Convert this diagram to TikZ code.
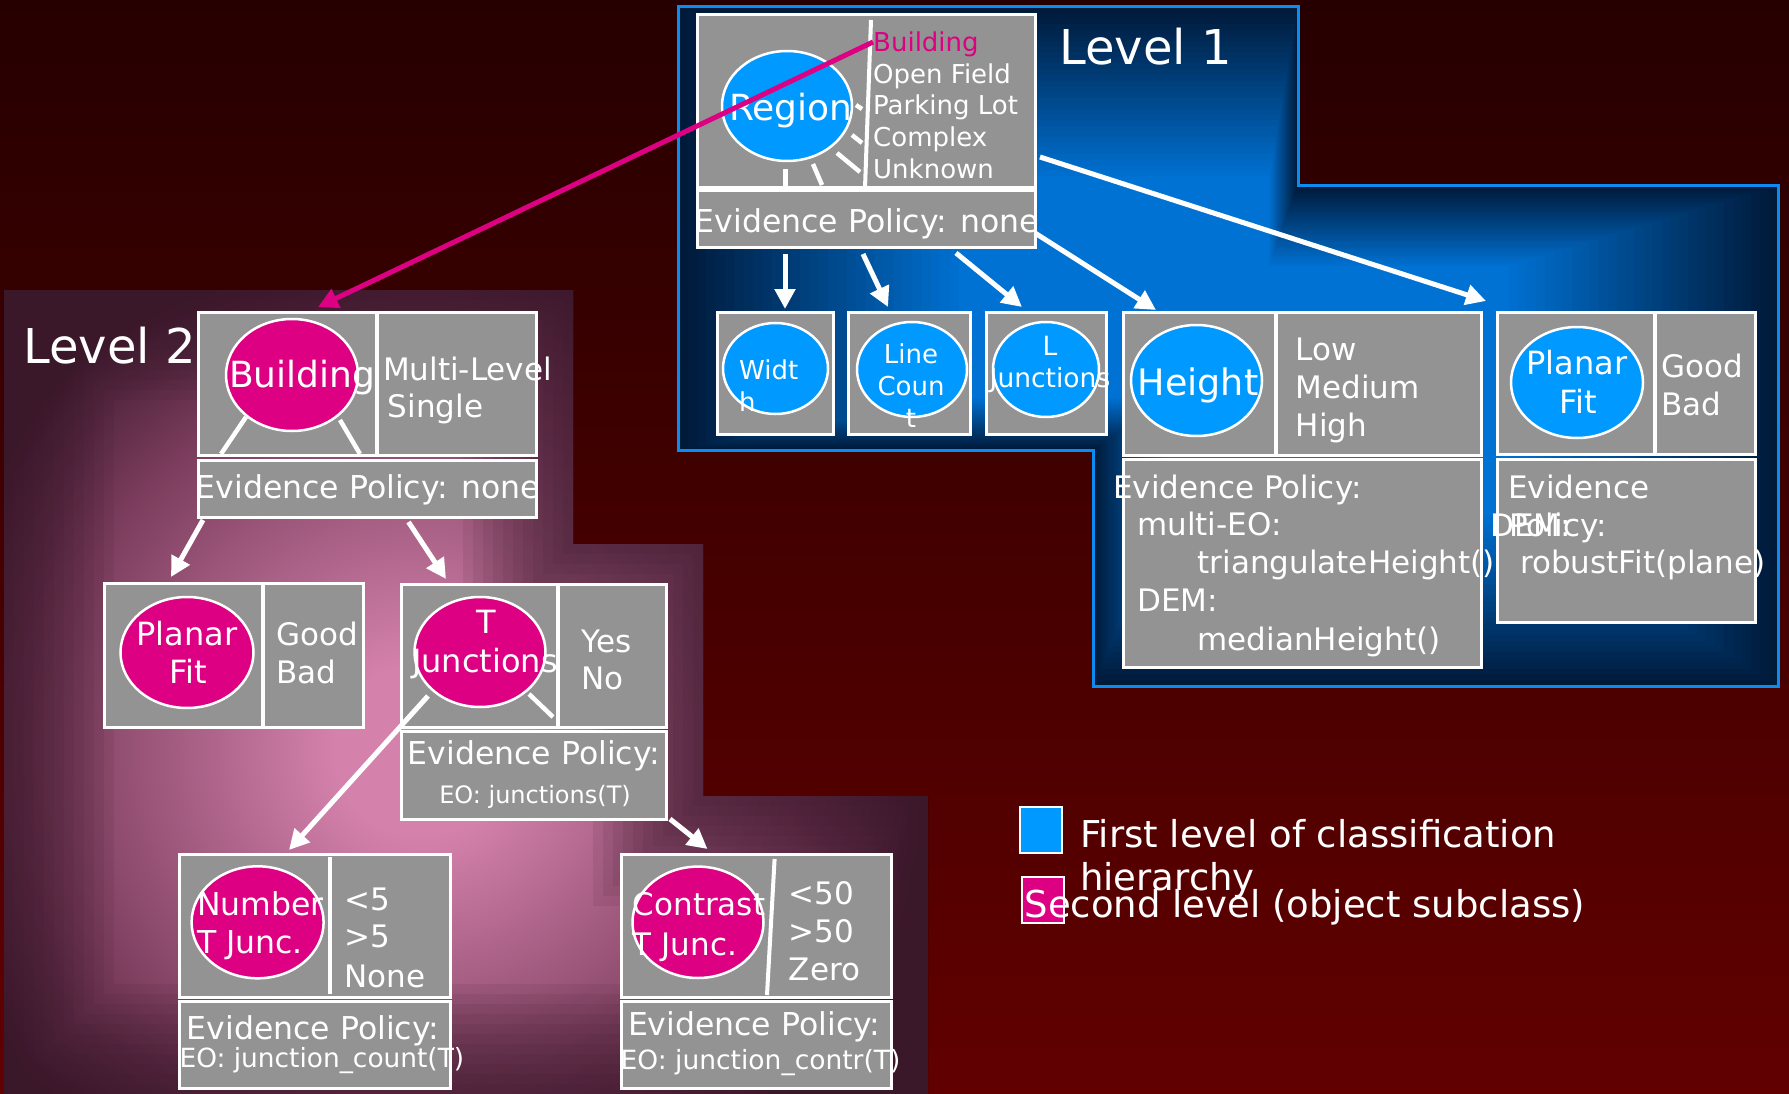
\documentclass[tikz,border=0pt]{standalone}
\usepackage{fontspec}
\setmainfont{DejaVu Sans}
\usetikzlibrary{shapes.geometric,arrows.meta}
\definecolor{bgtop}{RGB}{38,0,0}
\definecolor{bgbot}{RGB}{98,0,0}
\definecolor{boxgray}{RGB}{147,147,147}
\definecolor{lonefill}{RGB}{0,153,255}
\definecolor{ltwofill}{RGB}{221,0,130}
\definecolor{loneout}{RGB}{0,26,58}
\definecolor{lonein}{RGB}{0,114,212}
\definecolor{loneedge}{RGB}{10,140,240}
\definecolor{ltwoout}{RGB}{58,24,42}
\definecolor{ltwomid}{RGB}{122,60,92}
\definecolor{ltwoin}{RGB}{212,130,172}
\pgfdeclareradialshading{ltwoshade}{\pgfpoint{0bp}{0bp}}{color(0bp)=(ltwoin); color(4bp)=(ltwoin); color(18bp)=(ltwomid); color(25bp)=(ltwoout); color(50bp)=(ltwoout)}
\newcommand\myfs[1]{\fontsize{#1}{#1}\selectfont}
\begin{document}
\begin{tikzpicture}[x=1pt,y=-1pt,
  gbox/.style={draw=white,line width=3pt,fill=boxgray,inner sep=0pt,outer sep=0pt,anchor=north west},
  oneell/.style={ellipse,draw=white,line width=2.5pt,fill=lonefill,inner sep=0pt},
  twoell/.style={ellipse,draw=white,line width=2.5pt,fill=ltwofill,inner sep=0pt},
  lt/.style={text=white,inner sep=0pt,anchor=base west},
  ct/.style={text=white,inner sep=0pt,anchor=base},
  spoke/.style={draw=white,line width=4.5pt},
  divl/.style={draw=white,line width=4pt},
  warr/.style={draw=white,line width=5pt,-{Triangle[length=20pt,width=20pt]}},
  marr/.style={draw=ltwofill,line width=5pt,-{Triangle[length=20pt,width=20pt]}},
  pone/.style={insert path={(678,7) -- (1298,7) -- (1298,186) -- (1778,186) -- (1778,686) -- (1093,686) -- (1093,450) -- (678,450) -- cycle}},
  ptwo/.style={insert path={(4,290) -- (573,290) -- (573,544) -- (703,544) -- (703,796) -- (928,796) -- (928,1094) -- (4,1094) -- cycle}},
]
\useasboundingbox (0,0) rectangle (1789,1094);
\shade[top color=bgtop,bottom color=bgbot] (0,0) rectangle (1789,1094);

% Level 2 region: radial glow, darkened towards its outline
\begin{scope}
  \clip[ptwo];
  \fill[ltwoout,ptwo];
  \shade[shading=ltwoshade] (-110,220) rectangle (950,1280);
  \foreach \w in {110,100,...,10} {
    \draw[ltwoout,opacity=0.09,line width=\w*2pt,line join=miter,ptwo];
  }
\end{scope}

% Level 1 region: shape gradient from its centre
\begin{scope}
  \clip[pone];
  \foreach \k in {60,...,1} {
    \pgfmathsetmacro\sc{\k/60}
    \pgfmathtruncatemacro\mixv{min(100,100*(1-\sc)/0.5)}
    \begin{scope}[scale around={\sc:(1240,346)}]
      \fill[lonein!\mixv!loneout,pone];
    \end{scope}
  }
\end{scope}
\draw[loneedge,line width=3pt,pone];

\node[lt,font=\myfs{48}] (lvlone) at (1059,65) {Level 1};
\node[lt,font=\myfs{48}] (lvltwo) at (23,363) {Level 2};

% ---------- Region ----------
\node[gbox,minimum width=338pt,minimum height=173pt] (regtop) at (697,15) {};
\node[gbox,minimum width=338pt,minimum height=57pt] (regev) at (697,191) {};
\draw[divl] (871,20) -- (865,188);
\draw[spoke] (856,105) -- (862,109);
\draw[spoke] (852,135) -- (862,143);
\draw[spoke] (837,153) -- (860,172);
\draw[spoke] (813,164) -- (822,185);
\draw[spoke] (785.5,169) -- (785.5,186);
\node[oneell,minimum width=130pt,minimum height=110pt] (regell) at (787,106) {};
\node[ct,font=\myfs{36}] (tregion) at (791,121) {Region};
\node[lt,font=\myfs{26},text=ltwofill] (rv1) at (873,52) {Building};
\node[lt,font=\myfs{26}] (rv2) at (873,84) {Open Field};
\node[lt,font=\myfs{26}] (rv3) at (873,115) {Parking Lot};
\node[lt,font=\myfs{26}] (rv4) at (873,147) {Complex};
\node[lt,font=\myfs{26}] (rv5) at (873,179) {Unknown};
\node[ct,font=\myfs{31.5}] (regevt) at (867,233) {Evidence Policy: none};

% ---------- Width / Line Count / L Junctions ----------
\node[gbox,minimum width=116pt,minimum height=122pt] (wbox) at (717,312) {};
\node[oneell,minimum width=105pt,minimum height=91pt] (well) at (775.5,368.5) {};
\node[lt,font=\myfs{26}] (wt1) at (739,379) {Widt};
\node[lt,font=\myfs{26}] (wt2) at (739,411) {h};

\node[gbox,minimum width=122pt,minimum height=122pt] (lcbox) at (848,312) {};
\node[oneell,minimum width=110pt,minimum height=95pt] (lcell) at (912,369.5) {};
\node[ct,font=\myfs{26}] (lct1) at (911,363) {Line};
\node[ct,font=\myfs{26}] (lct2) at (911,395) {Coun};
\node[ct,font=\myfs{26}] (lct3) at (911,427) {t};

\node[gbox,minimum width=120pt,minimum height=122pt] (ljbox) at (986,312) {};
\node[oneell,minimum width=106pt,minimum height=95pt] (ljell) at (1046,369.5) {};
\node[ct,font=\myfs{26.5}] (ljt1) at (1050,355) {L};
\node[ct,font=\myfs{26.5}] (ljt2) at (1050,387) {Junctions};

% ---------- Height ----------
\node[gbox,minimum width=358pt,minimum height=143pt] (htop) at (1123,312) {};
\node[gbox,minimum width=358pt,minimum height=208pt] (hev) at (1123,459) {};
\draw[divl] (1276,312) -- (1276,455);
\node[oneell,minimum width=131pt,minimum height=111pt] (hell) at (1196.5,380.5) {};
\node[ct,font=\myfs{36.5}] (ht) at (1198,395) {Height};
\node[lt,font=\myfs{31}] (hv1) at (1295.5,360) {Low};
\node[lt,font=\myfs{31}] (hv2) at (1295.5,398) {Medium};
\node[lt,font=\myfs{31}] (hv3) at (1295.5,436) {High};
\node[lt,font=\myfs{31}] (he1) at (1113,498) {Evidence Policy:};
\node[lt,font=\myfs{31}] (he2) at (1137,535) {multi-EO:};
\node[lt,font=\myfs{31}] (he3) at (1197.5,573) {triangulateHeight()};
\node[lt,font=\myfs{31}] (he4) at (1137,611) {DEM:};
\node[lt,font=\myfs{31}] (he5) at (1197.5,650) {medianHeight()};

% ---------- Planar Fit (level 1) ----------
\node[gbox,minimum width=258pt,minimum height=142pt] (pftop) at (1497,312) {};
\node[gbox,minimum width=258pt,minimum height=163pt] (pfev) at (1497,459) {};
\draw[divl] (1655,312) -- (1655,454);
\node[oneell,minimum width=132pt,minimum height=111pt] (pfell) at (1577,382.5) {};
\node[ct,font=\myfs{32}] (pft1) at (1577,374) {Planar};
\node[ct,font=\myfs{32}] (pft2) at (1578,413) {Fit};
\node[lt,font=\myfs{31}] (pfv1) at (1661.5,377) {Good};
\node[lt,font=\myfs{31}] (pfv2) at (1661.5,415) {Bad};
\node[lt,font=\myfs{31}] (pfe1) at (1508,498) {Evidence};
\node[lt,font=\myfs{31}] (pfe2) at (1509,536) {Policy:};
\node[lt,font=\myfs{31}] (pfe3) at (1490,536) {DEM:};
\node[lt,font=\myfs{31}] (pfe4) at (1520,573) {robustFit(plane)};

% ---------- Building (level 2) ----------
\node[gbox,minimum width=337.5pt,minimum height=143pt] (btop) at (198.5,312.6) {};
\node[gbox,minimum width=337.5pt,minimum height=57pt] (bev) at (198.5,460) {};
\draw[divl] (377,312.6) -- (377,455.6);
\draw[spoke] (246,417) -- (221,454);
\draw[spoke] (340,420) -- (360,454);
\node[twoell,minimum width=132pt,minimum height=112pt] (bell) at (292,375) {};
\node[lt,font=\myfs{36}] (bt) at (229,387) {Building};
\node[lt,font=\myfs{31}] (bv1) at (383,380) {Multi-Level};
\node[lt,font=\myfs{31}] (bv2) at (387.7,417) {Single};
\node[ct,font=\myfs{31.5}] (bevt) at (368,498) {Evidence Policy: none};

% ---------- Planar Fit (level 2) ----------
\node[gbox,minimum width=259pt,minimum height=144pt] (ppftop) at (104.5,583) {};
\draw[divl] (263,583) -- (263,727);
\node[twoell,minimum width=133pt,minimum height=111pt] (ppfell) at (187,652.5) {};
\node[ct,font=\myfs{32}] (ppft1) at (187,645) {Planar};
\node[ct,font=\myfs{32}] (ppft2) at (188,683) {Fit};
\node[lt,font=\myfs{31}] (ppfv1) at (276,645) {Good};
\node[lt,font=\myfs{31}] (ppfv2) at (276,683) {Bad};

% ---------- T Junctions ----------
\node[gbox,minimum width=265pt,minimum height=143pt] (tjtop) at (401,584) {};
\node[gbox,minimum width=265pt,minimum height=88pt] (tjev) at (401,731) {};
\draw[divl] (557.7,584) -- (557.7,727);
\draw[spoke] (529,694) -- (553,717);
\node[twoell,minimum width=131pt,minimum height=110pt] (tjell) at (480,652) {};
\node[ct,font=\myfs{32}] (tjt1) at (486,633) {T};
\node[ct,font=\myfs{32}] (tjt2) at (485,672) {Junctions};
\node[lt,font=\myfs{31}] (tjv1) at (581,652) {Yes};
\node[lt,font=\myfs{31}] (tjv2) at (581,689) {No};
\node[lt,font=\myfs{31.5}] (tje1) at (407.6,764) {Evidence Policy:};
\node[ct,font=\myfs{24}] (tje2) at (535,803) {EO: junctions(T)};

% ---------- Number T Junc. ----------
\node[gbox,minimum width=271pt,minimum height=143pt] (nbtop) at (179,854.6) {};
\node[gbox,minimum width=271pt,minimum height=86.5pt] (nbev) at (179,1001.5) {};
\draw[divl] (330,857) -- (330,994);
\node[twoell,minimum width=132pt,minimum height=112pt] (nbell) at (257.6,922.3) {};
\node[lt,font=\myfs{31.5}] (nbt1) at (197,915) {Number};
\node[lt,font=\myfs{31.5}] (nbt2) at (197,953) {T Junc.};
\node[lt,font=\myfs{31}] (nbv1) at (344,910) {<5};
\node[lt,font=\myfs{31}] (nbv2) at (344,947) {>5};
\node[lt,font=\myfs{31}] (nbv3) at (344,987) {None};
\node[lt,font=\myfs{31.5}] (nbe1) at (186.7,1039) {Evidence Policy:};
\node[lt,font=\myfs{26.4}] (nbe2) at (179.4,1067) {EO: junction\_count(T)};

% ---------- Contrast T Junc. ----------
\node[gbox,minimum width=269.5pt,minimum height=143pt] (cttop) at (621.5,854.6) {};
\node[gbox,minimum width=269.5pt,minimum height=86.3pt] (ctev) at (621.5,1001.7) {};
\draw[divl] (774.6,859) -- (767,995);
\node[twoell,minimum width=131pt,minimum height=111.4pt] (ctell) at (698,922.3) {};
\node[lt,font=\myfs{31}] (ctt1) at (632.6,915) {Contrast};
\node[lt,font=\myfs{31}] (ctt2) at (632.6,955) {T Junc.};
\node[lt,font=\myfs{31}] (ctv1) at (788.7,904) {<50};
\node[lt,font=\myfs{31}] (ctv2) at (788.7,942) {>50};
\node[lt,font=\myfs{31}] (ctv3) at (788.7,980) {Zero};
\node[lt,font=\myfs{31.5}] (cte1) at (627.8,1035) {Evidence Policy:};
\node[lt,font=\myfs{26.5}] (cte2) at (620.5,1069) {EO: junction\_contr(T)};

% ---------- Legend ----------
\node[draw=white,line width=2pt,fill=lonefill,inner sep=0pt,outer sep=0pt,anchor=north west,minimum width=42pt,minimum height=46pt] (lega) at (1020,807) {};
\node[draw=white,line width=2pt,fill=ltwofill,inner sep=0pt,outer sep=0pt,anchor=north west,minimum width=42pt,minimum height=46pt] (legb) at (1022,877) {};
\node[lt,font=\myfs{37}] (lgt1) at (1080,847) {First level of classification};
\node[lt,font=\myfs{37}] (lgt2) at (1080,890) {hierarchy};
\node[lt,font=\myfs{37}] (lgt3) at (1024.5,917) {Second level (object subclass)};

% ---------- Connectors ----------
\coordinate (ca1) at (785,254);   \coordinate (ca2) at (785,309);
\coordinate (cb1) at (863,254);   \coordinate (cb2) at (888,307);
\coordinate (cc1) at (956,253);   \coordinate (cc2) at (1022,307);
\coordinate (cd1) at (1035,233);  \coordinate (cd2) at (1156,310);
\coordinate (ce1) at (1040,157);  \coordinate (ce2) at (1486,301);
\coordinate (cf1) at (203,520);   \coordinate (cf2) at (171,577);
\coordinate (cg1) at (408.5,522); \coordinate (cg2) at (446,579);
\coordinate (ch1) at (428,696);   \coordinate (ch2) at (289,850);
\coordinate (ci1) at (670,819);   \coordinate (ci2) at (707.5,849);
\coordinate (cm1) at (873,42);    \coordinate (cm2) at (318,307);
\draw[warr] (ca1) -- (ca2);
\draw[warr] (cb1) -- (cb2);
\draw[warr] (cc1) -- (cc2);
\draw[warr] (cd1) -- (cd2);
\draw[warr] (ce1) -- (ce2);
\draw[warr] (cf1) -- (cf2);
\draw[warr] (cg1) -- (cg2);
\draw[warr] (ch1) -- (ch2);
\draw[warr] (ci1) -- (ci2);
\draw[marr] (cm1) -- (cm2);
\end{tikzpicture}
\end{document}
